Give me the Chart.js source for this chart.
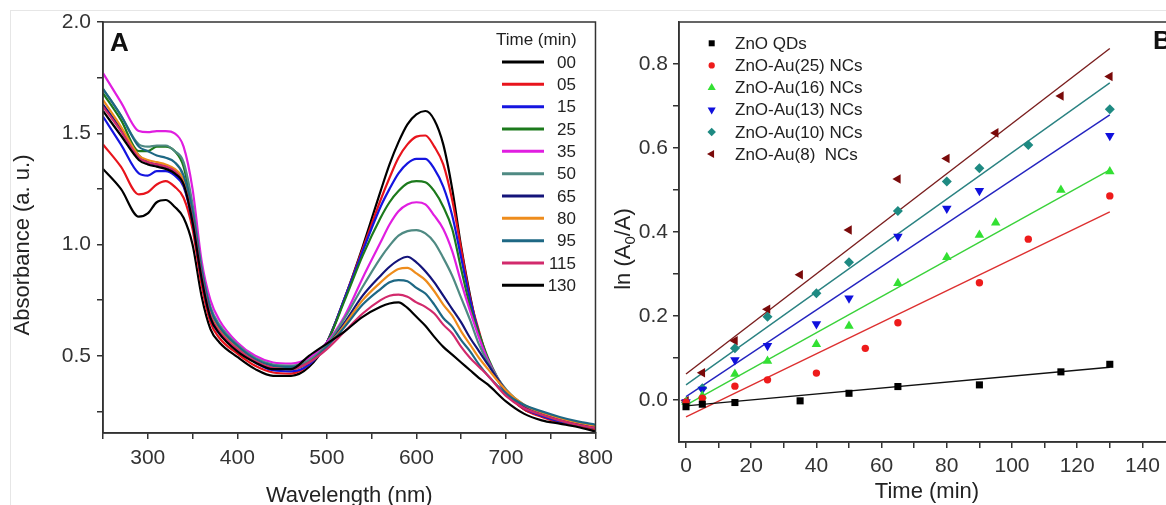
<!DOCTYPE html>
<html><head><meta charset="utf-8">
<script src="https://cdn.jsdelivr.net/npm/chart.js@4.4.1/dist/chart.umd.min.js"></script>
<style>
html,body{margin:0;padding:0;background:#fff;overflow:hidden;width:1166px;height:505px;}
#frame{position:absolute;left:10px;top:10px;width:1300px;height:600px;border-left:1px solid #e6e6e6;border-top:1px solid #e6e6e6;}
canvas{position:absolute;top:0;}
#ca{left:0;}
#cb{left:600px;}
</style></head>
<body>
<div id="frame"></div>
<canvas id="ca" width="620" height="520"></canvas>
<canvas id="cb" width="600" height="520"></canvas>
<script>
// ---------------- Panel A data ----------------
const wavelengths = [250,270,290,300,310,320,330,340,350,360,370,380,400,420,440,460,480,500,520,540,560,570,580,590,600,610,620,630,640,650,660,670,680,700,720,740,760,780,800];
const timeLabels = ['00','05','15','25','35','50','65','80','95','115','130'];
const abs00  = [1.34,1.25,1.125,1.14,1.19,1.20,1.17,1.12,1.00,0.77, 0.62,0.56,0.495,0.44,0.41,0.41,0.45,0.56,0.76,0.99, 1.24,1.36,1.46,1.54,1.585,1.60,1.56,1.45,1.25,0.99, 0.77,0.59,0.48,0.34,0.26,0.23,0.205,0.185,0.17];
const abs05  = [1.45,1.35,1.225,1.235,1.27,1.285,1.26,1.21,1.07,0.82, 0.65,0.58,0.51,0.455,0.425,0.42,0.46,0.56,0.76,0.98, 1.20,1.30,1.39,1.45,1.485,1.49,1.44,1.36,1.20,0.98, 0.76,0.61,0.48,0.335,0.26,0.225,0.20,0.185,0.17];
const abs15  = [1.575,1.45,1.32,1.31,1.33,1.33,1.31,1.26,1.10,0.85, 0.67,0.60,0.53,0.47,0.435,0.43,0.46,0.56,0.76,0.97, 1.17,1.25,1.32,1.365,1.385,1.385,1.34,1.26,1.13,0.94, 0.75,0.60,0.48,0.335,0.265,0.23,0.205,0.19,0.175];
const abs25  = [1.68,1.56,1.42,1.42,1.44,1.44,1.42,1.35,1.15,0.88, 0.69,0.61,0.54,0.48,0.445,0.44,0.47,0.56,0.75,0.95, 1.12,1.19,1.24,1.275,1.285,1.28,1.24,1.17,1.07,0.89, 0.72,0.60,0.49,0.34,0.27,0.235,0.21,0.19,0.175];
const abs35  = [1.77,1.64,1.51,1.505,1.51,1.51,1.50,1.44,1.25,0.93, 0.75,0.66,0.56,0.50,0.47,0.465,0.49,0.56,0.68,0.85, 1.01,1.09,1.15,1.18,1.19,1.18,1.13,1.07,0.97,0.83, 0.70,0.58,0.48,0.345,0.275,0.24,0.215,0.195,0.18];
const abs50  = [1.70,1.58,1.45,1.44,1.445,1.445,1.42,1.37,1.18,0.90, 0.72,0.64,0.55,0.49,0.46,0.455,0.48,0.55,0.67,0.81, 0.94,0.995,1.04,1.06,1.065,1.05,1.01,0.94,0.86,0.76, 0.66,0.55,0.47,0.35,0.28,0.245,0.22,0.20,0.185];
const abs65  = [1.63,1.52,1.40,1.37,1.36,1.35,1.33,1.28,1.12,0.87, 0.69,0.62,0.54,0.48,0.45,0.445,0.47,0.54,0.65,0.77, 0.86,0.90,0.93,0.945,0.92,0.88,0.83,0.77,0.71,0.65, 0.58,0.52,0.46,0.345,0.275,0.24,0.215,0.195,0.18];
const abs80  = [1.65,1.53,1.40,1.38,1.37,1.36,1.34,1.29,1.13,0.87, 0.70,0.62,0.54,0.48,0.45,0.445,0.47,0.54,0.64,0.75, 0.83,0.865,0.89,0.895,0.87,0.84,0.79,0.73,0.68,0.61, 0.55,0.49,0.44,0.345,0.28,0.245,0.22,0.20,0.185];
const abs95  = [1.70,1.58,1.44,1.42,1.40,1.39,1.37,1.31,1.15,0.89, 0.71,0.63,0.545,0.485,0.455,0.45,0.47,0.54,0.63,0.73, 0.80,0.83,0.84,0.835,0.805,0.78,0.73,0.67,0.63,0.57, 0.52,0.46,0.41,0.33,0.28,0.25,0.225,0.205,0.19];
const abs115 = [1.62,1.51,1.39,1.37,1.36,1.35,1.33,1.27,1.11,0.86, 0.68,0.61,0.53,0.475,0.445,0.44,0.47,0.53,0.61,0.69, 0.75,0.77,0.775,0.765,0.74,0.72,0.69,0.64,0.60,0.54, 0.49,0.45,0.41,0.32,0.265,0.235,0.21,0.19,0.175];
const abs130 = [1.60,1.49,1.38,1.36,1.35,1.34,1.32,1.27,1.10,0.85, 0.67,0.60,0.52,0.47,0.44,0.44,0.50,0.555,0.61,0.675, 0.72,0.735,0.74,0.715,0.675,0.635,0.585,0.54,0.505,0.47, 0.435,0.40,0.37,0.295,0.24,0.21,0.195,0.18,0.16];
const absSeries = [abs00,abs05,abs15,abs25,abs35,abs50,abs65,abs80,abs95,abs115,abs130];
const xTickValuesA = [250,300,350,400,450,500,550,600,650,700,750,800];
const xTickLabelsA = ['','300','','400','','500','','600','','700','','800'];
const yTickValuesA = [0.25,0.5,0.75,1.0,1.25,1.5,1.75,2.0];
const yTickLabelsA = ['','0.5','','1.0','','1.5','','2.0'];

// ---------------- Panel B data ----------------
const sampleNames = ['ZnO QDs','ZnO-Au(25) NCs','ZnO-Au(16) NCs','ZnO-Au(13) NCs','ZnO-Au(10) NCs','ZnO-Au(8)  NCs'];
const timeQD  = [0,5,15,35,50,65,90,115,130];
const lnQD    = [-0.016,-0.01,-0.006,-0.002,0.016,0.032,0.036,0.067,0.085];
const time25  = [0,5,15,25,40,55,65,90,105,130];
const ln25    = [-0.005,0.004,0.033,0.048,0.064,0.123,0.184,0.279,0.383,0.486];
const time16  = [0,5,15,25,40,50,65,80,90,95,115,130];
const ln16    = [-0.005,0.01,0.062,0.093,0.133,0.176,0.278,0.34,0.393,0.422,0.50,0.544];
const time13  = [0,5,15,25,40,50,65,80,90,130];
const ln13    = [-0.005,0.025,0.095,0.129,0.181,0.242,0.389,0.456,0.498,0.629];
const time10  = [0,5,15,25,40,50,65,80,90,105,130];
const ln10    = [-0.006,0.028,0.123,0.198,0.254,0.328,0.45,0.52,0.552,0.607,0.692];
const time8   = [0,5,15,25,35,50,65,80,95,115,130];
const ln8     = [-0.002,0.065,0.141,0.216,0.298,0.405,0.526,0.575,0.636,0.724,0.77];
const fitTime = [0,130];
const fitQD = [-0.014,0.078];
const fit25 = [-0.04,0.448];
const fit16 = [-0.012,0.548];
const fit13 = [0.008,0.679];
const fit10 = [0.036,0.755];
const fit8  = [0.062,0.837];
const xTickValuesB = [0,10,20,30,40,50,60,70,80,90,100,110,120,130,140,150];
const xTickLabelsB = ['0','','20','','40','','60','','80','','100','','120','','140',''];
const yTickValuesB = [0,0.1,0.2,0.3,0.4,0.5,0.6,0.7,0.8];
const yTickLabelsB = ['0.0','','0.2','','0.4','','0.6','','0.8'];

// ---------------- styles ----------------
const FF = "'Liberation Sans', Arial, sans-serif";
Chart.defaults.font.family = FF;
const AX = '#333';
const seriesColors = ['#000000','#e8141c','#1515e0','#1c7a1c','#e01ee0','#4f8a83','#14147a','#ee8c1c','#1e6884','#d22a6c','#000000'];
const bTimes = [timeQD,time25,time16,time13,time10,time8];
const bVals  = [lnQD,ln25,ln16,ln13,ln10,ln8];
const bFits  = [fitQD,fit25,fit16,fit13,fit10,fit8];
const bPointColors = ['#000000','#ee1b1b','#33e033','#1010dd','#1e8a82','#7a0a0a'];
const bLineColors  = ['#111111','#dd3030','#3ad23a','#2424c0','#2a8282','#7a1e1e'];
const bStyles = [
  {pointStyle:'rect', radius:5, rotation:0},
  {pointStyle:'circle', radius:3.7, rotation:0},
  {pointStyle:'triangle', radius:5.5, rotation:0},
  {pointStyle:'triangle', radius:5.5, rotation:180},
  {pointStyle:'rectRot', radius:5, rotation:0},
  {pointStyle:'triangle', radius:5.5, rotation:270}
];

function axisCommon(vals, labels, pad) {
  return {
    afterBuildTicks: s => { s.ticks = vals.map(v => ({value: v})); },
    ticks: {autoSkip:false, maxRotation:0, minRotation:0, padding:pad, color:AX, font:{size:21},
            callback: (v, i) => labels[i]},
    grid: {drawOnChartArea:false, drawTicks:true, tickLength:6, color:AX, lineWidth:1.5},
    border: {display:true, color:AX, width:1.5}
  };
}

function drawMarker(ctx, st, x, y, r, color) {
  ctx.save();
  ctx.fillStyle = color;
  ctx.beginPath();
  if (st.pointStyle === 'rect') {
    const h = r * Math.SQRT1_2; ctx.rect(x - h, y - h, 2*h, 2*h);
  } else if (st.pointStyle === 'circle') {
    ctx.arc(x, y, r, 0, Math.PI*2);
  } else if (st.pointStyle === 'rectRot') {
    ctx.moveTo(x, y - r); ctx.lineTo(x + r, y); ctx.lineTo(x, y + r); ctx.lineTo(x - r, y); ctx.closePath();
  } else {
    let rad = st.rotation * Math.PI / 180;
    for (let k = 0; k < 3; k++) {
      const a = rad + k * 2 * Math.PI / 3;
      const px = x + Math.sin(a) * r, py = y - Math.cos(a) * r;
      if (k === 0) ctx.moveTo(px, py); else ctx.lineTo(px, py);
    }
    ctx.closePath();
  }
  ctx.fill();
  ctx.restore();
}

// ---------------- Chart A ----------------
const decorA = {id:'decorA', afterDraw(chart) {
  const ctx = chart.ctx, a = chart.chartArea;
  ctx.save();
  ctx.strokeStyle = AX; ctx.lineWidth = 1.5;
  ctx.strokeRect(a.left, a.top, a.right - a.left, a.bottom - a.top);
  ctx.fillStyle = '#111'; ctx.textBaseline = 'middle'; ctx.textAlign = 'left';
  ctx.font = 'bold 26px ' + FF;
  ctx.fillText('A', 110, 44);
  ctx.font = '17px ' + FF; ctx.fillStyle = '#222';
  ctx.fillText('Time (min)', 496, 40);
  for (let i = 0; i < timeLabels.length; i++) {
    const y = 62 + i * 22.33;
    ctx.strokeStyle = seriesColors[i]; ctx.lineWidth = 3;
    ctx.beginPath(); ctx.moveTo(502, y); ctx.lineTo(544, y); ctx.stroke();
    ctx.textAlign = 'right'; ctx.fillStyle = '#222';
    ctx.fillText(timeLabels[i], 576, y + 1);
  }
  ctx.translate(23, 245); ctx.rotate(-Math.PI/2);
  ctx.textAlign = 'center'; ctx.font = '22px ' + FF; ctx.fillStyle = '#222';
  ctx.fillText('Absorbance (a. u.)', 0, 0);
  ctx.restore();
}};

const xA = axisCommon(xTickValuesA, xTickLabelsA, 7);
Object.assign(xA, {type:'linear', min:250, max:800,
  title:{display:true, text:'Wavelength (nm)', color:'#222', font:{size:22}, padding:{top:0, bottom:10.8}},
  afterFit: s => { s.height = 87; }});
const yA = axisCommon(yTickValuesA, yTickLabelsA, 6);
Object.assign(yA, {type:'linear', min:0.153, max:2.0, afterFit: s => { s.width = 103; }});

new Chart(document.getElementById('ca'), {
  type: 'line',
  data: {datasets: absSeries.map((s, i) => ({
    label: timeLabels[i],
    data: wavelengths.map((w, j) => ({x: w, y: s[j]})),
    borderColor: seriesColors[i], backgroundColor: seriesColors[i],
    borderWidth: 2.2, pointRadius: 0, fill: false,
    cubicInterpolationMode: 'monotone', order: timeLabels.length - i
  }))},
  options: {
    responsive:false, animation:false, devicePixelRatio:1,
    layout:{padding:{top:22, right:24, left:0, bottom:0}},
    plugins:{legend:{display:false}, tooltip:{enabled:false}},
    scales:{x:xA, y:yA}
  },
  plugins:[decorA]
});

// ---------------- Chart B ----------------
const decorB = {id:'decorB', afterDraw(chart) {
  const ctx = chart.ctx, a = chart.chartArea;
  ctx.save();
  ctx.strokeStyle = AX; ctx.lineWidth = 1.5;
  ctx.strokeRect(a.left, a.top, a.right - a.left, a.bottom - a.top);
  ctx.fillStyle = '#111'; ctx.textBaseline = 'middle'; ctx.textAlign = 'left';
  ctx.font = 'bold 26px ' + FF;
  ctx.fillText('B', 553, 42);
  ctx.font = '17px ' + FF; ctx.fillStyle = '#222';
  for (let i = 0; i < sampleNames.length; i++) {
    const y = 43.3 + i * 22.15;
    drawMarker(ctx, bStyles[i], 111.7, y, bStyles[i].radius * 0.85, bPointColors[i]);
    ctx.fillStyle = '#222';
    ctx.fillText(sampleNames[i], 135, y + 1);
  }
  // y title with subscript
  ctx.translate(22, 249); ctx.rotate(-Math.PI/2);
  ctx.textBaseline = 'alphabetic'; ctx.textAlign = 'left';
  const f1 = '22px ' + FF, f2 = '15px ' + FF;
  ctx.font = f1; const w1 = ctx.measureText('ln (A').width, w3 = ctx.measureText('/A)').width;
  ctx.font = f2; const w2 = ctx.measureText('0').width;
  let x0 = -(w1 + w2 + w3) / 2;
  ctx.fillStyle = '#222';
  ctx.font = f1; ctx.fillText('ln (A', x0, 8);
  ctx.font = f2; ctx.fillText('0', x0 + w1, 13);
  ctx.font = f1; ctx.fillText('/A)', x0 + w1 + w2, 8);
  ctx.restore();
}};

const xB = axisCommon(xTickValuesB, xTickLabelsB, 6);
Object.assign(xB, {type:'linear', min:-2.15, max:150,
  title:{display:true, text:'Time (min)', color:'#222', font:{size:22}, padding:{top:0, bottom:14.8}},
  afterFit: s => { s.height = 78; }});
const yB = axisCommon(yTickValuesB, yTickLabelsB, 5);
Object.assign(yB, {type:'linear', min:-0.1, max:0.9, afterFit: s => { s.width = 79; }});

const dsB = [];
for (let i = 0; i < sampleNames.length; i++) {
  dsB.push({
    type:'line', label: sampleNames[i] + ' fit',
    data: fitTime.map((t, j) => ({x: t, y: bFits[i][j]})),
    borderColor: bLineColors[i], borderWidth: 1.4, pointRadius: 0, showLine: true, fill:false, order: 2
  });
}
for (let i = 0; i < sampleNames.length; i++) {
  dsB.push({
    type:'scatter', label: sampleNames[i],
    data: bTimes[i].map((t, j) => ({x: t, y: bVals[i][j]})),
    backgroundColor: bPointColors[i], borderColor: bPointColors[i], borderWidth: 0,
    pointStyle: bStyles[i].pointStyle, pointRadius: bStyles[i].radius, rotation: bStyles[i].rotation,
    showLine:false, order: 1
  });
}

new Chart(document.getElementById('cb'), {
  type: 'scatter',
  data: {datasets: dsB},
  options: {
    responsive:false, animation:false, devicePixelRatio:1,
    layout:{padding:{top:22, right:25, left:0, bottom:0}},
    plugins:{legend:{display:false}, tooltip:{enabled:false}},
    scales:{x:xB, y:yB}
  },
  plugins:[decorB]
});
</script>
</body></html>
